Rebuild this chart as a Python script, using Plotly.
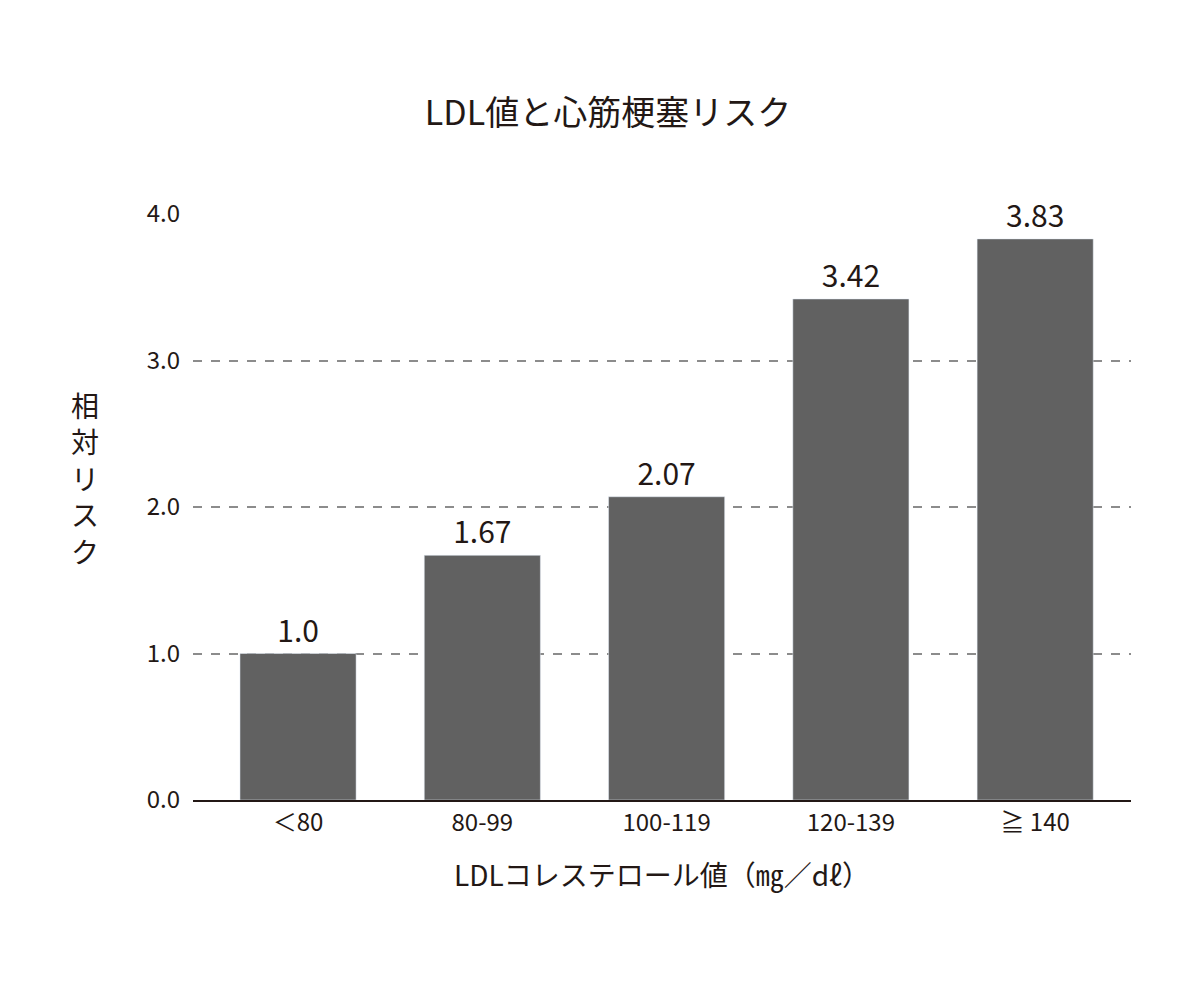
import plotly.graph_objects as go

categories = ["＜80", "80-99", "100-119", "120-139", "≧ 140"]
values = [1.0, 1.67, 2.07, 3.42, 3.83]
labels = ["1.0", "1.67", "2.07", "3.42", "3.83"]
yticks = [0, 1, 2, 3, 4]
yticklabels = ["0.0", "1.0", "2.0", "3.0", "4.0"]

font = "Noto Sans CJK JP"
fig = go.Figure(go.Bar(
    x=list(range(len(categories))), y=values, text=labels, textposition="outside",
    textfont=dict(size=30, color="#231815"), marker_color="#616161", width=0.63,
    cliponaxis=False))
fig.update_layout(
    width=1200, height=981, plot_bgcolor="white", paper_bgcolor="white",
    margin=dict(l=185, r=77, t=206, b=189),
    font=dict(family=font, color="#231815"),
    title=dict(text="LDL値と心筋梗塞リスク", x=0.5, xanchor="center", y=0.893, yanchor="middle",
               font=dict(size=34, color="#231815")),
    showlegend=False,
    xaxis=dict(tickvals=list(range(len(categories))), ticktext=categories, range=[-0.57, 4.52],
               showline=True, linecolor="#231815", linewidth=2, ticks="",
               tickfont=dict(size=24), showgrid=False, zeroline=False,
               title=dict(text="LDLコレステロール値（㎎／dℓ）", font=dict(size=28), standoff=30)),
    yaxis=dict(range=[0, 4.0], tickvals=yticks, ticktext=yticklabels, tickfont=dict(size=24),
               showgrid=True, gridcolor="#8c8c8c", griddash="dash", gridwidth=1.5,
               zeroline=False, ticks="", ticklabelstandoff=12),
    annotations=[dict(text="<br>".join("相対リスク"), x=80, y=480, xref="paper", yref="paper",
                      showarrow=False, font=dict(size=28))],
)
fig.layout.annotations[0].update(xref="paper", yref="paper", x=-0.115, y=0.55, xanchor="center", yanchor="middle")
fig.write_html("out.html")
